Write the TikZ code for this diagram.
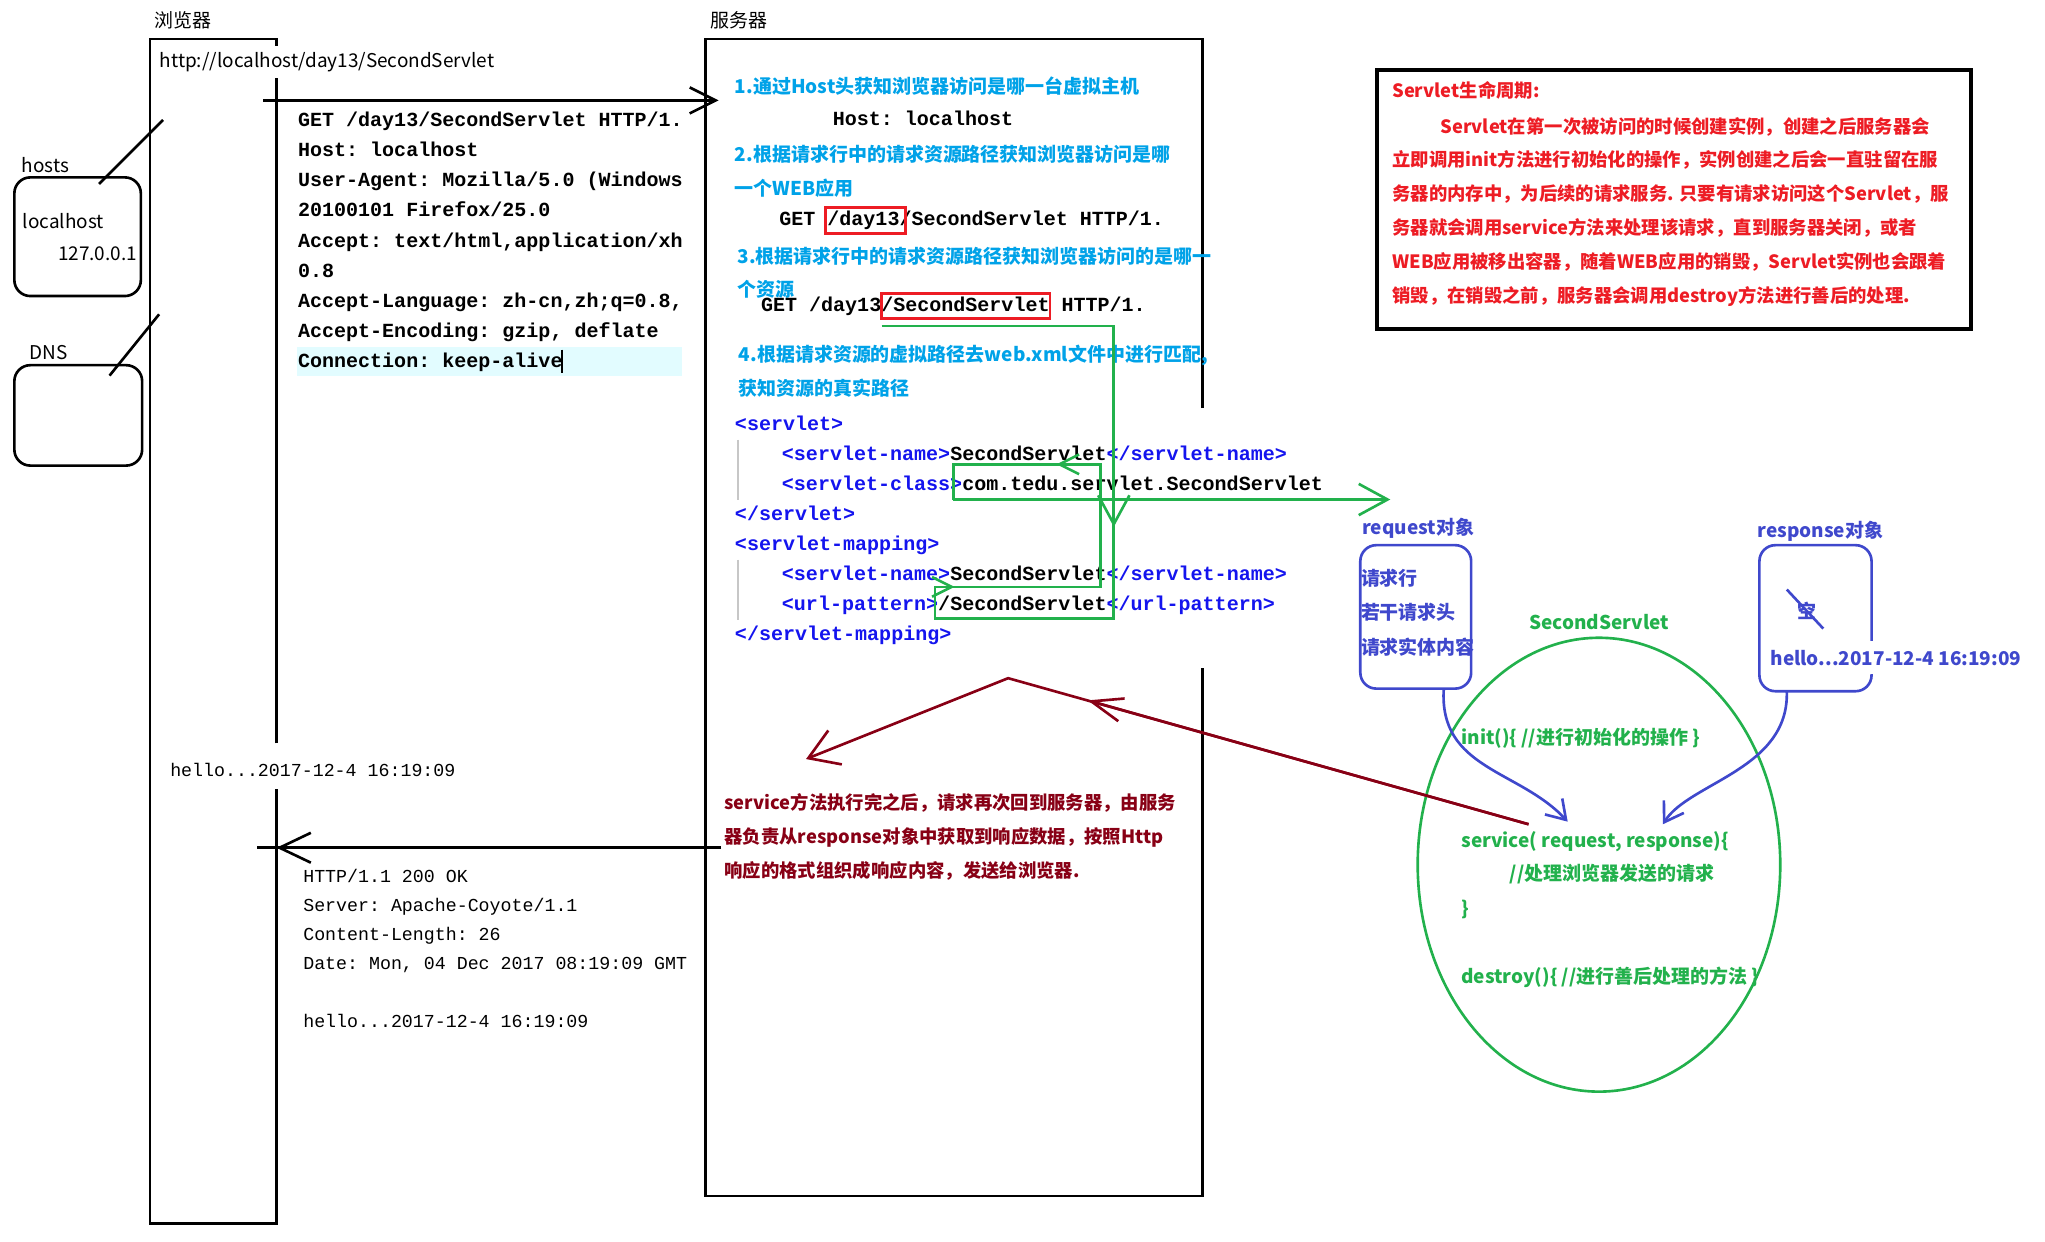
\documentclass[tikz,border=0pt]{standalone}
\usepackage{fontspec}
\setmainfont{Noto Sans CJK SC}
\setmonofont{Liberation Mono}
\usetikzlibrary{arrows.meta,shapes.geometric}

\newcommand{\pxu}{0.13042mm}
\newcommand{\cjksize}{\fontsize{5.4}{6}\selectfont}
\newcommand{\notesize}{\fontsize{5.22}{6}\selectfont}
\definecolor{stepblue}{HTML}{00A2E8}
\definecolor{notered}{HTML}{ED1C24}
\definecolor{pathgreen}{HTML}{22B14C}
\definecolor{backred}{HTML}{880015}
\definecolor{objblue}{HTML}{3F48CC}
\definecolor{tagblue}{HTML}{1414EE}
\definecolor{caretbg}{HTML}{E2FCFF}

\begin{document}
\begin{tikzpicture}[x=\pxu,y=-\pxu,
    frame/.style={line width=0.75pt},
    lbl/.style={anchor=base west,inner sep=0pt,font=\cjksize},
    steptxt/.style={lbl,text=stepblue,font=\cjksize\bfseries},
    notetxt/.style={lbl,text=notered,font=\notesize\bfseries},
    backtxt/.style={lbl,text=backred,font=\notesize\bfseries},
    lifetxt/.style={lbl,text=pathgreen,font=\cjksize\bfseries},
    objtxt/.style={lbl,text=objblue,font=\cjksize\bfseries},
    reqcode/.style={anchor=base west,inner sep=0pt,font=\ttfamily\bfseries\fontsize{5.7}{6}\selectfont},
    respcode/.style={anchor=base west,inner sep=0pt,font=\ttfamily\fontsize{5.2}{6}\selectfont},
    hostbox/.style={draw,line width=0.75pt,rounded corners=1.6mm,inner sep=0pt},
    objbox/.style={draw=objblue,line width=0.75pt,rounded corners=1.6mm,inner sep=0pt},
    redmark/.style={draw=notered,line width=0.8pt},
    gline/.style={draw=pathgreen,line width=0.75pt},
    rline/.style={draw=backred,line width=0.75pt},
    bline/.style={draw=objblue,line width=0.75pt},
    tipreq/.style={-{Straight Barb[length=7.4pt,width=7.4pt]}},
    tipresp/.style={-{Straight Barb[length=8.9pt,width=8.5pt]}},
    tipgreen/.style={-{Straight Barb[length=8.2pt,width=8.9pt]}},
    tipsmall/.style={-{Straight Barb[length=5.6pt,width=5.6pt]}},
    tipredend/.style={-{Straight Barb[length=8.2pt,width=10.4pt]}},
    tipredmid/.style={-{Straight Barb[length=8.9pt,width=6.7pt]}},
    tipblue/.style={-{Straight Barb[length=5.2pt,width=6.7pt]}},
  ]
  \useasboundingbox (0,0) rectangle (1568,952);

  % browser and server columns
  \draw[frame] (212,35) -- (212,30) -- (115,30) -- (115,938) -- (212,938) -- (212,605);
  \draw[frame] (212,570) -- (212,60);
  \draw[frame] (922,313) -- (922,30) -- (541,30) -- (541,917) -- (922,917) -- (922,512);
  \node (browser) [lbl] at (118,21) {浏览器};
  \node (server) [lbl] at (544,21) {服务器};
  \node (url) [lbl] at (122,52) {http://localhost/day13/SecondServlet};

  % hosts and DNS
  \node (hosts) [hostbox,minimum width=97*\pxu,minimum height=91*\pxu] at (59.5,181.5) {};
  \node (hostslbl) [lbl] at (16,132) {hosts};
  \node (lh) [lbl] at (17,175) {localhost};
  \node (ip) [lbl] at (44,200) {127.0.0.1};
  \coordinate (hostsend) at (125,92);
  \coordinate (hostsin) at (76,141);
  \draw[frame] (hostsend) -- (hostsin);
  \node (dns) [hostbox,minimum width=98*\pxu,minimum height=77*\pxu] at (60,318.5) {};
  \node (dnslbl) [lbl] at (22,276) {DNS};
  \coordinate (dnsend) at (122,241);
  \coordinate (dnsin) at (84,288);
  \draw[frame] (dnsend) -- (dnsin);

  % request message
  \fill[caretbg] (228,266) rectangle (523,288);
  \foreach \reqline [count=\i from 0] in {GET /day13/SecondServlet HTTP/1., Host: localhost,
      {User-Agent: Mozilla/5.0 (Windows}, 20100101 Firefox/25.0, {Accept: text/html,application/xh},
      0.8, {Accept-Language: zh-cn,zh;q=0.8,}, {Accept-Encoding: gzip, deflate}, Connection: keep-alive}
    \node (req\i) [reqcode] at (228,97+23.1*\i) {\reqline};
  \draw[line width=0.4pt] (431,268) -- (431,286);
  \coordinate (reqstart) at (202,77);
  \coordinate (reqend) at (551,77);
  \draw[frame,tipreq] (reqstart) -- (reqend);

  % response message
  \node (hello) [respcode] at (130,595) {hello...2017-12-4 16:19:09};
  \coordinate (respstart) at (553,650);
  \coordinate (resptail) at (197,650);
  \coordinate (respbarb) at (238,650);
  \coordinate (resptip) at (212,650);
  \draw[frame] (respstart) -- (resptail);
  \draw[frame,tipresp] (respbarb) -- (resptip);
  \foreach \respline [count=\i from 0] in {HTTP/1.1 200 OK, Server: Apache-Coyote/1.1,
      Content-Length: 26, {Date: Mon, 04 Dec 2017 08:19:09 GMT}}
    \node (resp\i) [respcode] at (232,677+22.2*\i) {\respline};
  \node (respbody) [respcode] at (232,788) {hello...2017-12-4 16:19:09};

  % server steps
  \node (step1) [steptxt] at (563,72) {1.通过Host头获知浏览器访问是哪一台虚拟主机};
  \node (hostline) [reqcode] at (638,96) {Host: localhost};
  \node (step2) [steptxt] at (563,124) {2.根据请求行中的请求资源路径获知浏览器访问是哪};
  \node (step2b) [steptxt] at (563,150) {一个WEB应用};
  \node (get1) [reqcode] at (597,173) {GET /day13/SecondServlet HTTP/1.};
  \draw[redmark] (633,159) rectangle (694,179);
  \node (step3) [steptxt] at (565,202) {3.根据请求行中的请求资源路径获知浏览器访问的是哪一};
  \node (step3b) [steptxt] at (565,227) {个资源};
  \node (get2) [reqcode] at (583,239) {GET /day13/SecondServlet HTTP/1.};
  \draw[redmark] (676,225) rectangle (805,244);
  \node (step4) [steptxt] at (566,277) {4.根据请求资源的虚拟路径去web.xml文件中进行匹配,};
  \node (step4b) [steptxt] at (566,303) {获知资源的真实路径};

  % web.xml
  \draw[black!22,line width=0.4pt] (566,337) -- (566,383);
  \draw[black!22,line width=0.4pt] (566,429) -- (566,475);
  \node (x1) [reqcode,text=tagblue] at (563,330) {<servlet>};
  \node (x2) [reqcode] at (599,353) {\textcolor{tagblue}{<servlet-name>}SecondServlet\textcolor{tagblue}{</servlet-name>}};
  \node (x3) [reqcode] at (599,376) {\textcolor{tagblue}{<servlet-class>}com.tedu.servlet.SecondServlet};
  \node (x4) [reqcode,text=tagblue] at (563,399) {</servlet>};
  \node (x5) [reqcode,text=tagblue] at (563,422) {<servlet-mapping>};
  \node (x6) [reqcode] at (599,445) {\textcolor{tagblue}{<servlet-name>}SecondServlet\textcolor{tagblue}{</servlet-name>}};
  \node (x7) [reqcode] at (599,468) {\textcolor{tagblue}{<url-pattern>}/SecondServlet\textcolor{tagblue}{</url-pattern>}};
  \node (x8) [reqcode,text=tagblue] at (563,491) {</servlet-mapping>};

  % matching path
  \coordinate (g1) at (676,250);
  \coordinate (g2) at (854,250);
  \coordinate (g3) at (854,474);
  \coordinate (g4) at (717,474);
  \coordinate (g5) at (717,450);
  \coordinate (g6) at (844,450);
  \coordinate (g7) at (844,356);
  \coordinate (g8) at (731,356);
  \coordinate (g9) at (731,383);
  \coordinate (g10) at (1066,383);
  \draw[gline] (g1) -- (g2) -- (g3) -- (g4) -- (g5) -- (g6) -- (g7) -- (g8) -- (g9);
  \draw[gline,tipgreen] (g9) -- (g10);
  \draw[gline,tipgreen] (854,384) -- (854,404);
  \draw[gline,tipsmall] (719,450) -- (732,450);
  \draw[gline,tipsmall] (826,356) -- (810,356);

  % lifecycle note
  \node (note) [draw,line width=1.1pt,anchor=north west,inner sep=0pt,
    minimum width=456*\pxu,minimum height=199*\pxu] at (1054,52) {};
  \node (note0) [notetxt] at (1067,75) {Servlet生命周期:};
  \node (note1) [notetxt] at (1104,102) {Servlet在第一次被访问的时候创建实例，创建之后服务器会};
  \foreach \noteline [count=\i from 2] in {
      {立即调用init方法进行初始化的操作，实例创建之后会一直驻留在服},
      {务器的内存中，为后续的请求服务. 只要有请求访问这个Servlet，服},
      {务器就会调用service方法来处理该请求，直到服务器关闭，或者},
      {WEB应用被移出容器，随着WEB应用的销毁，Servlet实例也会跟着},
      {销毁，在销毁之前，服务器会调用destroy方法进行善后的处理.}}
    \node (note\i) [notetxt] at (1067,76+26*\i) {\noteline};

  % servlet instance
  \node (servlet) [draw=pathgreen,line width=0.75pt,ellipse,inner sep=0pt,
    minimum width=278*\pxu,minimum height=348*\pxu] at (1226,663) {};
  \node (servletlbl) [lifetxt] at (1172,483) {SecondServlet};
  \node (init) [lifetxt] at (1120,571) {init()\{ //进行初始化的操作 \}};
  \node (service) [lifetxt] at (1120,650) {service( request, response)\{};
  \node (handle) [lifetxt] at (1157,675) {//处理浏览器发送的请求};
  \node (close) [lifetxt] at (1120,702) {\}};
  \node (destroy) [lifetxt] at (1120,754) {destroy()\{ //进行善后处理的方法 \}};

  % request and response objects
  \node (reqobj) [objbox,minimum width=85*\pxu,minimum height=110*\pxu] at (1085.5,473) {};
  \node (reqlbl) [objtxt] at (1044,410) {request对象};
  \node (reqa) [objtxt] at (1043,449) {请求行};
  \node (reqb) [objtxt] at (1043,475) {若干请求头};
  \node (reqc) [objtxt] at (1043,502) {请求实体内容};
  \node (respobj) [objbox,minimum width=86*\pxu,minimum height=112*\pxu] at (1392,474) {};
  \node (resplbl) [objtxt] at (1347,412) {response对象};
  \node (empty) [objtxt] at (1378,474) {空};
  \draw[bline] (1370,452) -- (1398,482);
  \node (resphello) [objtxt,fill=white,inner ysep=2.5pt] at (1357,510) {hello...2017-12-4 16:19:09};
  \coordinate (reqout) at (1107,528);
  \coordinate (reqin) at (1202,630);
  \coordinate (respout) at (1370,530);
  \coordinate (respin) at (1275,632);
  \draw[bline,tipblue] (reqout) .. controls (1103,590) and (1165,590) .. (reqin);
  \draw[bline,tipblue] (respout) .. controls (1372,590) and (1295,600) .. (respin);

  % back to the browser
  \coordinate (d1) at (1172,632);
  \coordinate (d2) at (773,520);
  \coordinate (d3) at (618,582);
  \coordinate (dmid) at (834,537);
  \draw[rline,tipredend] (d1) -- (d2) -- (d3);
  \draw[rline,tipredmid] (d1) -- (dmid);
  \node (back1) [backtxt] at (555,621) {service方法执行完之后，请求再次回到服务器，由服务};
  \node (back2) [backtxt] at (555,647) {器负责从response对象中获取到响应数据，按照Http};
  \node (back3) [backtxt] at (555,673) {响应的格式组织成响应内容，发送给浏览器.};
\end{tikzpicture}
\end{document}
